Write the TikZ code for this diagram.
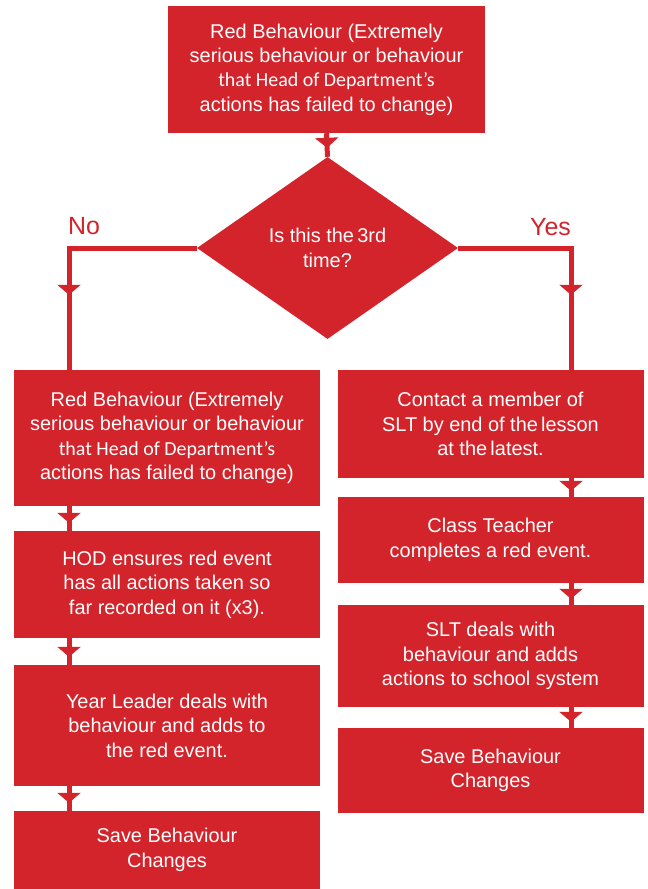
\documentclass[tikz,border=0pt]{standalone}
\usepackage{fontspec}
\setmainfont{Liberation Sans}
\newfontfamily\calfont{Carlito}
\usepackage{xcolor}
\usetikzlibrary{shapes.geometric, arrows.meta, decorations.markings}

\definecolor{redbox}{RGB}{211,35,43}

\tikzset{
  box/.style={rectangle, fill=redbox, text=white, align=center, inner sep=0pt,
    minimum width=306bp, font=\fontsize{20}{24.5}\selectfont},
  conn/.style={draw=redbox, line width=5bp},
  tipat/.style={postaction={decorate}, decoration={markings,
    mark=at position #1 with {\arrow[redbox]{Triangle[width=23bp, length=10bp]}}}},
  branch/.style={text=redbox, font=\fontsize{25}{30}\selectfont, inner sep=0pt}
}

\begin{document}
\begin{tikzpicture}[x=1bp, y=-1bp]
  \useasboundingbox (0,0) rectangle (648,889);

  % Top
  \node[box, minimum width=317bp, minimum height=127bp] (start) at (326.5, 69.5)
    {Red Behaviour (Extremely\\ serious behaviour or behaviour\\
     {\calfont that Head of Department’s}\\ actions has failed to change)};
  \node[diamond, fill=redbox, text=white, align=center, inner sep=0pt,
    minimum width=261bp, minimum height=182bp,
    font=\fontsize{20}{24.5}\selectfont] (third) at (327.5, 248)
    {Is this the\,3rd\\ time?};

  % Branch columns
  \coordinate (lx) at (69, 0);
  \coordinate (rx) at (571, 0);
  \node[branch, anchor=base west] (no) at (68, 234) {No};
  \node[branch, anchor=base east] (yes) at (571, 235) {Yes};

  % Left column (No)
  \node[box, minimum height=136bp] (l1) at (167, 438)
    {Red Behaviour (Extremely\\ serious behaviour or behaviour\\
     {\calfont that Head of Department’s}\\ actions has failed to change)};
  \node[box, minimum height=107bp] (l2) at (167, 584.5)
    {HOD ensures red event\\ has all actions taken so\\ far recorded on it (x3).};
  \node[box, minimum height=121bp] (l3) at (167, 725.5)
    {Year Leader deals with\\ behaviour and adds to\\ the red event.};
  \node[box, minimum height=78bp] (l4) at (167, 850)
    {Save Behaviour\\ Changes};

  % Right column (Yes)
  \node[box, minimum height=108bp] (r1) at (490.5, 424)
    {Contact a member of\\ SLT by end of the\,lesson\\ at the\,latest.};
  \node[box, minimum height=86bp] (r2) at (490.5, 540)
    {Class Teacher\\ completes a red event.};
  \node[box, minimum height=102bp] (r3) at (490.5, 656)
    {SLT deals with\\ behaviour and adds\\ actions to school system};
  \node[box, minimum height=85bp] (r4) at (490.5, 770.5)
    {Save Behaviour\\ Changes};

  % Connectors
  \draw[conn, tipat=-9bp] (start.south) -- (third.north);
  \draw[conn, tipat=-75bp] (third.west) -| (l1.north -| lx);
  \draw[conn, tipat=-75bp] (third.east) -| (r1.north -| rx);

  \draw[conn, tipat=-8bp] (l1.south -| lx) -- (l2.north -| lx);
  \draw[conn, tipat=-8bp] (l2.south -| lx) -- (l3.north -| lx);
  \draw[conn, tipat=-8bp] (l3.south -| lx) -- (l4.north -| lx);

  \draw[conn, tipat=-6bp] (r1.south -| rx) -- (r2.north -| rx);
  \draw[conn, tipat=-6bp] (r2.south -| rx) -- (r3.north -| rx);
  \draw[conn, tipat=-6bp] (r3.south -| rx) -- (r4.north -| rx);
\end{tikzpicture}
\end{document}
